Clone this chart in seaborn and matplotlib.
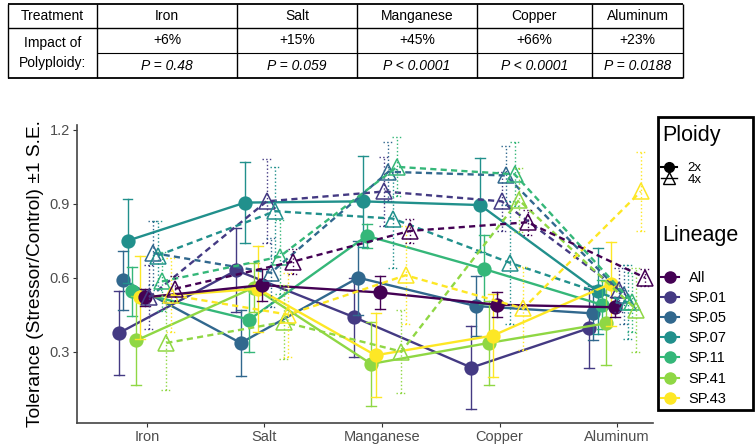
import numpy as np
import pandas as pd
import matplotlib
matplotlib.use("Agg")
import matplotlib.pyplot as plt
from matplotlib.lines import Line2D
from matplotlib.patches import Rectangle
import seaborn as sns

treatments = ["Iron", "Salt", "Manganese", "Copper", "Aluminum"]
lineages = ["All", "SP.01", "SP.05", "SP.07", "SP.11", "SP.41", "SP.43"]
ploidies = ["2x", "4x"]
y_ticks = [0.3, 0.6, 0.9, 1.2]

impact = ["+6%", "+15%", "+45%", "+66%", "+23%"]
p_values = ["P = 0.48", "P = 0.059", "P < 0.0001", "P < 0.0001", "P = 0.0188"]

# tolerance (stressor/control), order: Iron, Salt, Manganese, Copper, Aluminum
mean_2x = {
    "All":   [0.52, 0.57, 0.54, 0.49, 0.48],
    "SP.01": [0.375, 0.63, 0.44, 0.235, 0.395],
    "SP.05": [0.59, 0.335, 0.60, 0.485, 0.455],
    "SP.07": [0.75, 0.905, 0.91, 0.895, 0.545],
    "SP.11": [0.545, 0.43, 0.77, 0.635, 0.49],
    "SP.41": [0.345, 0.56, 0.25, 0.335, 0.415],
    "SP.43": [0.52, 0.555, 0.285, 0.365, 0.575],
}
se_2x = {
    "All":   [0.035, 0.065, 0.067, 0.05, 0.04],
    "SP.01": [0.17, 0.17, 0.16, 0.17, 0.16],
    "SP.05": [0.12, 0.135, 0.15, 0.12, 0.11],
    "SP.07": [0.17, 0.165, 0.185, 0.19, 0.175],
    "SP.11": [0.10, 0.13, 0.05, 0.14, 0.10],
    "SP.41": [0.18, 0.10, 0.17, 0.17, 0.17],
    "SP.43": [0.17, 0.175, 0.17, 0.17, 0.17],
}
mean_4x = {
    "All":   [0.555, 0.665, 0.79, 0.825, 0.60],
    "SP.01": [0.52, 0.91, 0.95, 0.91, 0.55],
    "SP.05": [0.70, 0.62, 1.03, 1.015, 0.53],
    "SP.07": [0.69, 0.87, 0.84, 0.66, 0.50],
    "SP.11": [0.585, 0.685, 1.05, 1.02, 0.50],
    "SP.41": [0.335, 0.42, 0.30, 0.915, 0.47],
    "SP.43": [0.53, 0.45, 0.61, 0.475, 0.95],
}
se_4x = {
    "All":   [0.05, 0.05, 0.05, 0.05, 0.035],
    "SP.01": [0.13, 0.17, 0.14, 0.12, 0.09],
    "SP.05": [0.13, 0.14, 0.12, 0.12, 0.12],
    "SP.07": [0.14, 0.18, 0.20, 0.25, 0.15],
    "SP.11": [0.12, 0.15, 0.12, 0.13, 0.12],
    "SP.41": [0.19, 0.15, 0.17, 0.13, 0.17],
    "SP.43": [0.15, 0.17, 0.20, 0.17, 0.16],
}

colors = ["#440154", "#443A83", "#31688E", "#21908C", "#35B779", "#8FD744", "#FDE725"]

plt.rcParams["font.family"] = ["Liberation Sans", "DejaVu Sans"]

# two rows per cell (mean - se, mean + se) so the mean and min/max give the bar
rows = []
for pl, means, ses in [("2x", mean_2x, se_2x), ("4x", mean_4x, se_4x)]:
    for lin in lineages:
        for t, m, s in zip(treatments, means[lin], ses[lin]):
            rows.append((t, lin, pl, f"{lin} {pl}", m - s))
            rows.append((t, lin, pl, f"{lin} {pl}", m + s))
df = pd.DataFrame(rows, columns=["Treatment", "Lineage", "Ploidy", "group", "tol"])

dodge_order = lineages[1:] + lineages[:1]
groups = [f"{lin} {pl}" for pl in ploidies for lin in dodge_order]
pal = {f"{lin} {pl}": c for lin, c in zip(lineages, colors) for pl in ploidies}


def minmax(v):
    return (v.min(), v.max())


fig = plt.figure(figsize=(7.55, 4.46), dpi=100)
ax = fig.add_axes([77 / 755, 1 - 423 / 446, (653 - 77) / 755, (423 - 125) / 446])

styles = {
    "2x": dict(markers="o", linestyles="-", err_ls="-", ms=9, mfc=None),
    "4x": dict(markers="^", linestyles="--", err_ls=":", ms=11.5, mfc="none"),
}
for pl in ploidies:
    st = styles[pl]
    n0 = len(ax.lines)
    sns.pointplot(data=df[df.Ploidy == pl], x="Treatment", y="tol", hue="group",
                  order=treatments, hue_order=groups, palette=pal, dodge=0.4775,
                  errorbar=minmax, markers=st["markers"], linestyles=st["linestyles"],
                  capsize=0.085, err_kws={"linewidth": 1.0, "linestyle": st["err_ls"]},
                  markersize=st["ms"], linewidth=1.7, legend=False, ax=ax)
    for ln in ax.lines[n0:]:
        if ln.get_marker() not in (None, "None", ""):
            if st["mfc"]:
                ln.set_markerfacecolor(st["mfc"])
                ln.set_markeredgewidth(1.1)
            if pl == "4x":
                ln.set_dashes([2.6, 1.8])

ax.set_xlim(-0.595, 4.306)
ax.set_ylim(0.01, 1.22)
ax.set_yticks(y_ticks)
ax.set_yticklabels([f"{v:.1f}" for v in y_ticks])
ax.set_xlabel("")
ax.set_ylabel("Tolerance (Stressor/Control) \u00b11 S.E.", fontsize=13.8, color="black", labelpad=4)
ax.tick_params(axis="both", colors="#333333", labelcolor="#4D4D4D", labelsize=10.5,
               length=3, pad=2)
for side in ["top", "right"]:
    ax.spines[side].set_visible(False)
for side in ["left", "bottom"]:
    ax.spines[side].set_color("#444444")
    ax.spines[side].set_linewidth(1.2)

# legend block: titles as text, entries as two borderless legends
fig.text(662 / 755, 1 - 136 / 446, "Ploidy", fontsize=15.5, va="center", ha="left")
fig.text(662 / 755, 1 - 236 / 446, "Lineage", fontsize=15.5, va="center", ha="left")
pl_handles = [Line2D([], [], color="black", marker="o", ms=7, lw=1.5),
              Line2D([], [], color="black", marker="^", mfc="none", ms=8, lw=1.0)]
fig.legend(pl_handles, ploidies, loc="upper left",
           bbox_to_anchor=(661 / 755, 1 - 162 / 446), frameon=False, fontsize=9.5,
           handlelength=1.2, labelspacing=-0.05, handletextpad=0.8,
           borderaxespad=0, borderpad=0)
lin_handles = [Line2D([], [], color=c, marker="o", ms=8, lw=1.5) for c in colors]
fig.legend(lin_handles, lineages, loc="upper left",
           bbox_to_anchor=(661 / 755, 1 - 271 / 446), frameon=False, fontsize=10.5,
           handlelength=1.2, labelspacing=0.42, handletextpad=0.7,
           borderaxespad=0, borderpad=0)
fig.add_artist(Rectangle((658 / 755, 1 - 410 / 446), 95 / 755, 293 / 446,
                         transform=fig.transFigure, fill=False, lw=2, ec="black"))

# summary table above the plot
tax = fig.add_axes([0, 1 - 80 / 446, 1, 80 / 446])
tax.set_xlim(0, 755)
tax.set_ylim(80, 0)
tax.axis("off")
col_edges = [8, 97, 237, 357, 477, 592, 683]
top, hdr, mid, bot = 4, 28, 53, 78
tax.hlines([top, bot], col_edges[0], col_edges[-1], color="black", lw=1.3)
tax.hlines(hdr, col_edges[0], col_edges[-1], color="black", lw=1.0)
tax.hlines(mid, col_edges[1], col_edges[-1], color="black", lw=0.8)
tax.vlines(col_edges, top, bot, color="black", lw=1.0)
centers = [(a + b) / 2 for a, b in zip(col_edges[:-1], col_edges[1:])]
tax.text(centers[0], (top + hdr) / 2, "Treatment", ha="center", va="center", fontsize=10)
tax.text(centers[0], (hdr + bot) / 2, "Impact of\nPolyploidy:", ha="center", va="center",
         fontsize=10, linespacing=1.5)
for c, t, imp, p in zip(centers[1:], treatments, impact, p_values):
    tax.text(c, (top + hdr) / 2, t, ha="center", va="center", fontsize=10)
    tax.text(c, (hdr + mid) / 2, imp, ha="center", va="center", fontsize=10)
    tax.text(c, (mid + bot) / 2, p, ha="center", va="center", fontsize=10, style="italic")

fig.savefig("out.png", dpi=100)
